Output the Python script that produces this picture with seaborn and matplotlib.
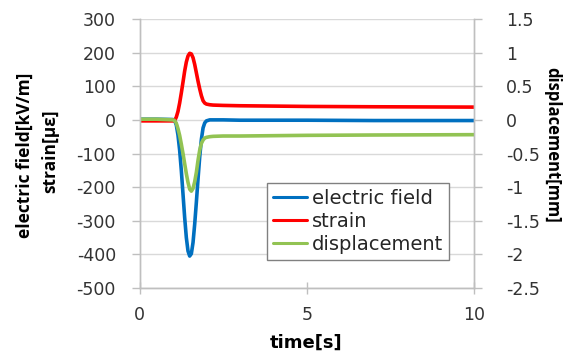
import matplotlib
matplotlib.use("Agg")
import matplotlib.pyplot as plt
import seaborn as sns
import pandas as pd

# ---- data ----
time = [0, 0.5, 1.0, 1.05, 1.1, 1.15, 1.2, 1.25, 1.3, 1.35, 1.4, 1.45, 1.5, 1.55,
        1.6, 1.65, 1.7, 1.75, 1.8, 1.85, 1.9, 1.95, 2.0, 2.1, 2.2, 2.5, 3, 5, 7, 10]
electric_field = [2, 2, 1, -2, -15, -45, -90, -150, -220, -290, -350, -390, -405, -398,
                  -365, -310, -245, -175, -110, -58, -24, -9, -3, 0, 0, 0, -1, -1, -2, -2]
strain = [-3, -3, -3, -2, 8, 25, 50, 80, 112, 145, 172, 190, 198, 196,
          185, 165, 140, 115, 92, 72, 57, 50, 47, 45, 44, 43, 42, 40, 39, 38]
displacement = [0.01, 0.01, 0.0, -0.01, -0.05, -0.13, -0.23, -0.36, -0.5, -0.65, -0.8, -0.93, -1.03, -1.06,
                -1.02, -0.92, -0.78, -0.6, -0.45, -0.35, -0.3, -0.27, -0.26, -0.25, -0.245, -0.24, -0.24,
                -0.23, -0.225, -0.22]

left_ticks = [300, 200, 100, 0, -100, -200, -300, -400, -500]
right_ticks = [1.5, 1, 0.5, 0, -0.5, -1, -1.5, -2, -2.5]
right_ticklabels = ["1.5", "1", "0.5", "0", "-0.5", "-1", "-1.5", "-2", "-2.5"]
x_ticks = [0, 5, 10]

labels = ["electric field", "strain", "displacement"]
colors = {"electric field": "#0070C0", "strain": "#FF0000", "displacement": "#92C353"}

sns.set_theme(style="white")
plt.rcParams["font.family"] = ["DejaVu Sans"]

W, H = 565, 352
fig = plt.figure(figsize=(W / 100, H / 100), dpi=100)
ax = fig.add_axes([139.5 / W, 1 - 288 / H, (474 - 139.5) / W, (288 - 19) / H])
ax2 = ax.twinx()

df_left = pd.DataFrame({
    "time": time * 2,
    "value": electric_field + strain,
    "series": ["electric field"] * len(time) + ["strain"] * len(time),
})
df_right = pd.DataFrame({"time": time, "value": displacement,
                         "series": ["displacement"] * len(time)})

sns.lineplot(data=df_left, x="time", y="value", hue="series", palette=colors,
             ax=ax, linewidth=2.6, legend=False, sort=False)
sns.lineplot(data=df_right, x="time", y="value", hue="series", palette=colors,
             ax=ax2, linewidth=2.6, legend=False, sort=False)

gray = "#BFBFBF"
ax.set_xlim(0, 10)
ax.set_ylim(-500, 300)
ax2.set_ylim(-2.5, 1.5)
ax.set_xticks(x_ticks)
ax.set_xticklabels([str(v) for v in x_ticks])
ax.set_yticks(left_ticks)
ax.set_yticklabels([str(v) for v in left_ticks])
ax2.set_yticks(right_ticks)
ax2.set_yticklabels(right_ticklabels)

ax.grid(axis="y", color="#D9D9D9", linewidth=1.0)
ax.set_axisbelow(True)

for a in (ax, ax2):
    a.spines["top"].set_visible(False)
    for side in ("left", "right", "bottom"):
        a.spines[side].set_color(gray)
        a.spines[side].set_linewidth(1.0)

tick_font = 12.5
ax.tick_params(axis="y", direction="out", length=6, color=gray, width=1,
               labelsize=tick_font, labelcolor="#333333", pad=11, left=True)
ax.tick_params(axis="x", direction="inout", length=8, color=gray, width=1,
               labelsize=tick_font, labelcolor="#333333", pad=9, bottom=True)
ax2.tick_params(axis="y", direction="out", length=6, color=gray, width=1,
                labelsize=tick_font, labelcolor="#333333", pad=17, right=True)

ax.set_xlabel("")
ax.set_ylabel("")
ax2.set_ylabel("")

lab_font = ["Open Sans", "DejaVu Sans"]
fig.text(25 / W, 1 - 155 / H, "electric field[kV/m]", rotation=90, ha="center",
         va="center", fontsize=12.5, fontweight="bold", family=lab_font, color="#000000")
fig.text(50 / W, 1 - 151 / H, "strain[\u03bc\u03b5]", rotation=90, ha="center",
         va="center", fontsize=12.5, fontweight="bold", family=lab_font, color="#000000")
fig.text(552 / W, 1 - 145 / H, "displacement[mm]", rotation=-90, ha="center",
         va="center", fontsize=12, fontweight="bold", family=lab_font, color="#000000")
fig.text(306 / W, 1 - 343 / H, "time[s]", ha="center", va="center",
         fontsize=13, fontweight="bold", color="#000000")

handles = [plt.Line2D([], [], color=colors[k], linewidth=2.2) for k in labels]
leg = ax.legend(handles, labels, loc="lower left", bbox_to_anchor=(0.381, 0.104),
                fontsize=14, frameon=True, fancybox=False, framealpha=1,
                edgecolor="#808080", borderpad=0.3, handlelength=1.75,
                handletextpad=0.25, labelspacing=0.22, borderaxespad=0)
leg.get_frame().set_linewidth(1.0)
for t in leg.get_texts():
    t.set_color("#262626")

fig.savefig("out.png", dpi=100)
